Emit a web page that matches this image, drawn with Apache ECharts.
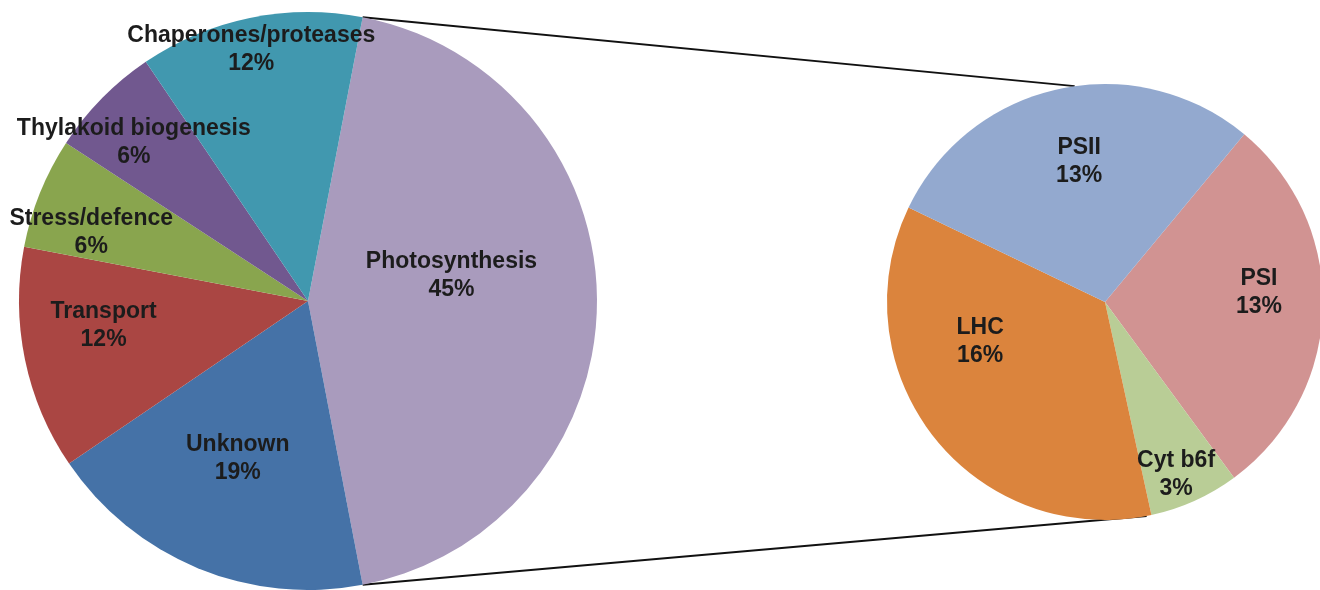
<!DOCTYPE html>
<html>
<head>
<meta charset="utf-8">
<script src="https://cdn.jsdelivr.net/npm/echarts@6/dist/echarts.min.js"></script>
<style>
  html, body { margin: 0; padding: 0; background: #fff; }
  #chart { width: 1320px; height: 590px; }
</style>
</head>
<body>
<div id="chart"></div>
<script>
// main pie, clockwise starting with the photosynthesis slice
const groups = ['Photosynthesis', 'Unknown', 'Transport', 'Stress/defence', 'Thylakoid biogenesis', 'Chaperones/proteases']
const groupShare = [43.9, 18.5, 12.5, 6.2, 6.3, 12.5] // slice sizes as drawn
const groupPct = [45, 19, 12, 6, 6, 12] // printed on the labels

// photosynthesis broken down in the small pie (% of all proteins)
const subGroups = ['PSI', 'Cyt b6f', 'LHC', 'PSII']
const subPct = [13, 3, 16, 13]

const groupColors = ['#A99BBD', '#4572A7', '#AA4643', '#89A54E', '#71588F', '#4198AF']
const subColors = ['#D19392', '#B9CD96', '#DB843D', '#93A9CF']

// label nudges away from the default inside spot, px
const groupNudge = [[-4, -25], [-14, 21], [-60, -5], [-80, -13], [-69, -55], [-27, -107]]
const subNudge = [[42, -13], [25, 71], [-37, -30], [-2, -31]]

// start = degrees clockwise from 12 o'clock
const bigPie = { cx: 308, cy: 301, r: 289, start: 10.9 }
const smallPie = { cx: 1105, cy: 302, r: 218, start: 39.7 }
const linkAngles = [352, 169] // where the connectors meet the small pie

function onCircle(p, deg) {
  const a = deg * Math.PI / 180
  return [p.cx + p.r * Math.sin(a), p.cy - p.r * Math.cos(a)]
}

const total = groupShare.reduce((s, v) => s + v, 0)
const photoFrom = onCircle(bigPie, bigPie.start)
const photoTo = onCircle(bigPie, bigPie.start + 360 * groupShare[0] / total)
const linkTop = onCircle(smallPie, linkAngles[0])
const linkBottom = onCircle(smallPie, linkAngles[1])

const labelStyle = {
  show: true,
  position: 'inside',
  color: '#1c1c1c',
  fontFamily: 'Liberation Sans, Arial, sans-serif',
  fontWeight: 'bold',
  fontSize: 23,
  lineHeight: 28,
  align: 'center'
}

const chart = echarts.init(document.getElementById('chart'))
chart.setOption({
  animation: false,
  backgroundColor: '#fff',
  graphic: [
    {
      type: 'line',
      z: 0,
      shape: { x1: photoFrom[0], y1: photoFrom[1], x2: linkTop[0], y2: linkTop[1] },
      style: { stroke: '#111', lineWidth: 2 }
    },
    {
      type: 'line',
      z: 0,
      shape: { x1: photoTo[0], y1: photoTo[1], x2: linkBottom[0], y2: linkBottom[1] },
      style: { stroke: '#111', lineWidth: 2 }
    }
  ],
  series: [
    {
      type: 'pie',
      center: [bigPie.cx, bigPie.cy],
      radius: bigPie.r,
      startAngle: 90 - bigPie.start,
      clockwise: true,
      avoidLabelOverlap: false,
      z: 2,
      itemStyle: { borderWidth: 0 },
      label: Object.assign({}, labelStyle, {
        formatter: p => p.name + '\n' + groupPct[p.dataIndex] + '%'
      }),
      labelLine: { show: false },
      labelLayout: p => ({ dx: groupNudge[p.dataIndex][0], dy: groupNudge[p.dataIndex][1] }),
      emphasis: { disabled: true },
      data: groups.map((name, i) => ({ name, value: groupShare[i], itemStyle: { color: groupColors[i] } }))
    },
    {
      type: 'pie',
      center: [smallPie.cx, smallPie.cy],
      radius: smallPie.r,
      startAngle: 90 - smallPie.start,
      clockwise: true,
      avoidLabelOverlap: false,
      z: 2,
      itemStyle: { borderWidth: 0 },
      label: Object.assign({}, labelStyle, {
        formatter: p => p.name + '\n' + subPct[p.dataIndex] + '%'
      }),
      labelLine: { show: false },
      labelLayout: p => ({ dx: subNudge[p.dataIndex][0], dy: subNudge[p.dataIndex][1] }),
      emphasis: { disabled: true },
      data: subGroups.map((name, i) => ({ name, value: subPct[i], itemStyle: { color: subColors[i] } }))
    }
  ]
})
</script>
</body>
</html>
